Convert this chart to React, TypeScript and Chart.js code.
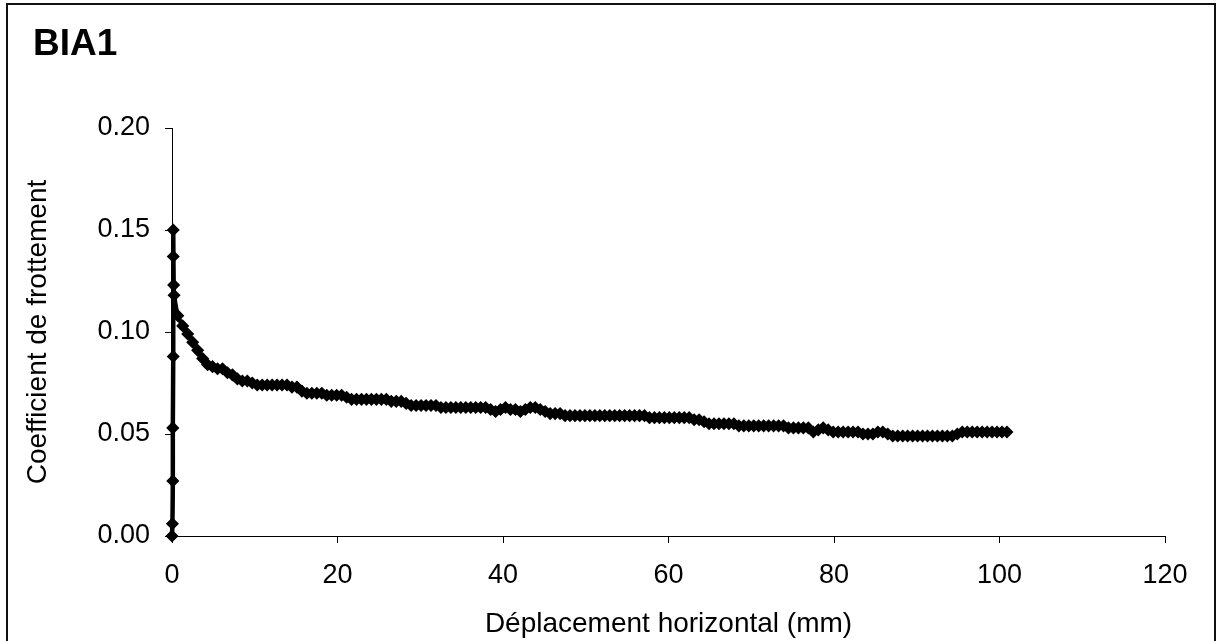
import React, { useEffect, useRef } from "react";
import { Chart, registerables } from "chart.js";

Chart.register(...registerables);

const CHART_TITLE = "BIA1";
const X_TITLE = "Déplacement horizontal (mm)";
const Y_TITLE = "Coefficient de frottement";
const X_TICKS = [0, 20, 40, 60, 80, 100, 120];
const Y_TICKS = [0, 0.05, 0.1, 0.15, 0.2];

// initial loading (near-vertical rise at x ≈ 0)
const startX = [0, 0.05, 0.1, 0.1, 0.15, 0.15, 0.15, 0.2, 0.25];
const startY = [0, 0.006, 0.027, 0.053, 0.088, 0.137, 0.15, 0.123, 0.118];

// sliding phase
const slideX = [
  0.7, 1.3, 1.9, 2.5, 3.1, 3.7, 4.3, 4.9, 5.5, 6.1,
  6.7, 7.3, 7.9, 8.5, 9.1, 9.7, 10.3, 10.9, 11.5, 12.1,
  12.7, 13.3, 13.9, 14.5, 15.1, 15.7, 16.3, 16.9, 17.5, 18.1,
  18.7, 19.3, 19.9, 20.5, 21.1, 21.7, 22.3, 22.9, 23.5, 24.1,
  24.7, 25.3, 25.9, 26.5, 27.1, 27.7, 28.3, 28.9, 29.5, 30.1,
  30.7, 31.3, 31.9, 32.5, 33.1, 33.7, 34.3, 34.9, 35.5, 36.1,
  36.7, 37.3, 37.9, 38.5, 39.1, 39.7, 40.3, 40.9, 41.5, 42.1,
  42.7, 43.3, 43.9, 44.5, 45.1, 45.7, 46.3, 46.9, 47.5, 48.1,
  48.7, 49.3, 49.9, 50.5, 51.1, 51.7, 52.3, 52.9, 53.5, 54.1,
  54.7, 55.3, 55.9, 56.5, 57.1, 57.7, 58.3, 58.9, 59.5, 60.1,
  60.7, 61.3, 61.9, 62.5, 63.1, 63.7, 64.3, 64.9, 65.5, 66.1,
  66.7, 67.3, 67.9, 68.5, 69.1, 69.7, 70.3, 70.9, 71.5, 72.1,
  72.7, 73.3, 73.9, 74.5, 75.1, 75.7, 76.3, 76.9, 77.5, 78.1,
  78.7, 79.3, 79.9, 80.5, 81.1, 81.7, 82.3, 82.9, 83.5, 84.1,
  84.7, 85.3, 85.9, 86.5, 87.1, 87.7, 88.3, 88.9, 89.5, 90.1,
  90.7, 91.3, 91.9, 92.5, 93.1, 93.7, 94.3, 94.9, 95.5, 96.1,
  96.7, 97.3, 97.9, 98.5, 99.1, 99.7, 100.3, 100.9,
];
const slideY = [
  0.108, 0.103, 0.099, 0.095, 0.091, 0.087, 0.084, 0.083, 0.082, 0.082,
  0.080, 0.079, 0.077, 0.076, 0.076, 0.075, 0.074, 0.074, 0.074, 0.074,
  0.074, 0.074, 0.074, 0.073, 0.073, 0.071, 0.070, 0.070, 0.070, 0.070,
  0.069, 0.069, 0.069, 0.069, 0.068, 0.067, 0.067, 0.067, 0.067, 0.067,
  0.067, 0.067, 0.067, 0.066, 0.066, 0.066, 0.065, 0.064, 0.064, 0.064,
  0.064, 0.064, 0.064, 0.063, 0.063, 0.063, 0.063, 0.063, 0.063, 0.063,
  0.063, 0.063, 0.063, 0.062, 0.061, 0.062, 0.063, 0.062, 0.062, 0.061,
  0.062, 0.063, 0.063, 0.062, 0.061, 0.060, 0.060, 0.060, 0.059, 0.059,
  0.059, 0.059, 0.059, 0.059, 0.059, 0.059, 0.059, 0.059, 0.059, 0.059,
  0.059, 0.059, 0.059, 0.059, 0.059, 0.058, 0.058, 0.058, 0.058, 0.058,
  0.058, 0.058, 0.058, 0.058, 0.057, 0.057, 0.056, 0.055, 0.055, 0.055,
  0.055, 0.055, 0.055, 0.054, 0.054, 0.054, 0.054, 0.054, 0.054, 0.054,
  0.054, 0.054, 0.054, 0.053, 0.053, 0.053, 0.053, 0.053, 0.051, 0.052,
  0.053, 0.052, 0.051, 0.051, 0.051, 0.051, 0.051, 0.051, 0.050, 0.050,
  0.050, 0.051, 0.051, 0.050, 0.049, 0.049, 0.049, 0.049, 0.049, 0.049,
  0.049, 0.049, 0.049, 0.049, 0.049, 0.049, 0.049, 0.050, 0.051, 0.051,
  0.051, 0.051, 0.051, 0.051, 0.051, 0.051, 0.051, 0.051,
];

const FONT = "'Liberation Sans', Arial, Helvetica, sans-serif";

export default function App() {
  const ref = useRef<HTMLCanvasElement | null>(null);

  useEffect(() => {
    if (!ref.current) return;
    const points = [
      ...startX.map((x, i) => ({ x, y: startY[i] })),
      ...slideX.map((x, i) => ({ x, y: slideY[i] })),
    ];

    const framePlugin = {
      id: "frameAndTitle",
      afterDraw(chart: any) {
        const ctx = chart.ctx;
        ctx.save();
        ctx.strokeStyle = "#111";
        ctx.lineWidth = 2;
        ctx.strokeRect(7, 4, 1208, 700);
        ctx.fillStyle = "#000";
        ctx.font = `bold 37px ${FONT}`;
        ctx.textBaseline = "alphabetic";
        ctx.textAlign = "left";
        ctx.fillText(CHART_TITLE, 33, 55);
        ctx.restore();
      },
    };

    const chart = new Chart(ref.current, {
      type: "scatter",
      data: {
        datasets: [
          {
            data: points,
            showLine: true,
            borderColor: "#000",
            backgroundColor: "#000",
            borderWidth: 4.5,
            pointStyle: "rectRot",
            pointRadius: 5.5,
            pointBorderWidth: 1.5,
            pointBorderColor: "#000",
            pointBackgroundColor: "#000",
            tension: 0.3,
            clip: false as any,
          },
        ],
      },
      options: {
        responsive: false,
        animation: false,
        devicePixelRatio: 1,
        layout: { padding: { left: 0, top: 128, right: 55, bottom: 0 } },
        plugins: {
          legend: { display: false },
          tooltip: { enabled: false },
          title: { display: false },
        },
        scales: {
          x: {
            type: "linear",
            min: 0,
            max: 120,
            afterBuildTicks: (s: any) => {
              s.ticks = X_TICKS.map((v) => ({ value: v }));
            },
            afterFit: (s: any) => {
              s.height = 105;
            },
            ticks: {
              color: "#000",
              padding: 16,
              font: { family: FONT, size: 27 },
              maxRotation: 0,
              callback: (v: any) => String(v),
            },
            grid: {
              drawOnChartArea: false,
              drawTicks: true,
              tickLength: 7,
              color: "#000",
            },
            border: { display: true, color: "#000", width: 1 },
            title: {
              display: true,
              text: X_TITLE,
              color: "#000",
              font: { family: FONT, size: 28, lineHeight: 1 },
              padding: { top: 0, bottom: 3 },
            },
          },
          y: {
            type: "linear",
            min: 0,
            max: 0.2,
            afterBuildTicks: (s: any) => {
              s.ticks = Y_TICKS.map((v) => ({ value: v }));
            },
            afterFit: (s: any) => {
              s.width = 172;
            },
            ticks: {
              color: "#000",
              padding: 15,
              font: { family: FONT, size: 27 },
              callback: (v: any) => Number(v).toFixed(2),
            },
            grid: {
              drawOnChartArea: false,
              drawTicks: true,
              tickLength: 7,
              color: "#000",
            },
            border: { display: true, color: "#000", width: 1 },
            title: {
              display: true,
              text: Y_TITLE,
              color: "#000",
              font: { family: FONT, size: 28 },
              padding: { top: 21, bottom: 0 },
            },
          },
        },
      } as any,
      plugins: [framePlugin],
    });
    return () => chart.destroy();
  }, []);

  return (
    <div
      style={{
        position: "fixed",
        left: 0,
        top: 0,
        width: 1220,
        height: 641,
        background: "#fff",
      }}
    >
      <canvas ref={ref} width={1220} height={641} style={{ display: "block" }} />
    </div>
  );
}
